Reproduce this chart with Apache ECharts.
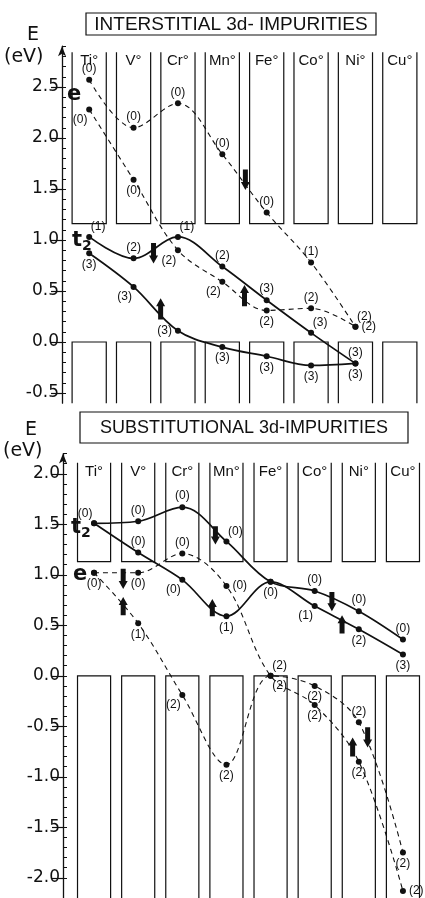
<!DOCTYPE html>
<html>
<head>
<meta charset="utf-8">
<title>3d impurities</title>
<script src="https://cdn.jsdelivr.net/npm/echarts@6.0.0/dist/echarts.min.js"></script>
<style>
    html, body { margin: 0; padding: 0; background: #fff; }
    #levels { width: 425px; height: 898px; }
</style>
</head>
<body>
<div id="levels"></div>
<script>
    var cats = ['Ti°', 'V°', 'Cr°', 'Mn°', 'Fe°', 'Co°', 'Ni°', 'Cu°'];

    // interstitial panel (eV)
    var intTicks = [-0.5, 0.0, 0.5, 1.0, 1.5, 2.0, 2.5];
    var intBand = [2.84, 1.16];   // conduction columns: top, bottom edge
    var intE1 = [2.57, 2.10, 2.34, 1.84, 1.27, 0.78, 0.15];
    var intE1Occ = ['(0)', '(0)', '(0)', '(0)', '(0)', '(1)', '(2)'];
    var intE2 = [2.28, 1.59, 0.90, 0.59, 0.31, 0.33, 0.15];
    var intE2Occ = ['(0)', '(0)', '(2)', '(2)', '(2)', '(2)', '(2)'];
    var intT2a = [1.03, 0.82, 1.03, 0.74, 0.41, 0.09, -0.21];
    var intT2aOcc = ['(1)', '(2)', '(1)', '(2)', '(3)', '(3)', '(3)'];
    var intT2b = [0.87, 0.54, 0.11, -0.05, -0.14, -0.23, -0.21];
    var intT2bOcc = ['(3)', '(3)', '(3)', '(3)', '(3)', '(3)', '(3)'];
    var intArrows = [[3.52, 1.69, 1.49], [1.45, 0.97, 0.77], [1.61, 0.22, 0.43], [3.50, 0.35, 0.56]];

    // substitutional panel (eV)
    var subTicks = [-2.0, -1.5, -1.0, -0.5, 0.0, 0.5, 1.0, 1.5, 2.0];
    var subBand = [2.11, 1.13];
    var subT2a = [1.51, 1.53, 1.67, 1.33, 0.93, 0.84, 0.64, 0.36];
    var subT2aOcc = ['(0)', '(0)', '(0)', '(0)', '(0)', '(0)', '(0)', '(0)'];
    var subT2b = [1.51, 1.22, 0.95, 0.59, 0.93, 0.69, 0.46, 0.21];
    var subT2bOcc = ['', '(0)', '(0)', '(1)', '', '(1)', '(2)', '(3)'];
    var subEa = [1.02, 1.02, 1.21, 0.89, 0.0, -0.29, -0.85, -2.13];
    var subEaOcc = ['(0)', '(0)', '(0)', '(0)', '(2)', '(2)', '(2)', '(2)'];
    var subEb = [1.02, 0.52, -0.19, -0.88, 0.0, -0.10, -0.46, -1.75];
    var subEbOcc = ['', '(1)', '(2)', '(2)', '(2)', '(2)', '(2)', '(2)'];
    var subArrows = [[0.66, 1.06, 0.86], [0.66, 0.60, 0.78], [2.75, 1.48, 1.30], [2.68, 0.59, 0.76],
        [5.39, 0.83, 0.64], [5.62, 0.42, 0.60], [5.86, -0.80, -0.61], [6.20, -0.51, -0.71]];

    // where each occupancy label sits next to its point
    var intE1Pos = ['t', 't', 't', 't', 't', 't', 'tr'];
    var intE2Pos = ['bl', 'b', 'bl', 'bl', 'b', 't', 'r'];
    var intT2aPos = ['tr', 't', 'tr', 't', 't', 'tr', 't'];
    var intT2bPos = ['b', 'bl', 'l', 'b', 'b', 'b', 'b'];
    var subT2aPos = ['tl', 't', 't', 'tr', 'b', 't', 't', 't'];
    var subT2bPos = ['', 't', 'bl', 'b', '', 'bl', 'b', 'b'];
    var subEaPos = ['b', 'b', 't', 'r', 'tr', 'b', 'b', 'r'];
    var subEbPos = ['', 'b', 'bl', 'b', 'br', 'b', 't', 'b'];

    var INK = '#111';
    var FONT = 'DejaVu Sans';

    function labelAt(k) {
        switch (k) {
            case 't': return {position: 'top', offset: [0, 1]};
            case 'b': return {position: 'bottom', offset: [0, -1]};
            case 'l': return {position: 'left', offset: [0, 0]};
            case 'r': return {position: 'right', offset: [0, 0]};
            case 'tr': return {position: 'top', offset: [9, 2]};
            case 'tl': return {position: 'top', offset: [-9, 2]};
            case 'br': return {position: 'bottom', offset: [9, -2]};
            case 'bl': return {position: 'bottom', offset: [-9, -2]};
        }
        return {position: 'top'};
    }

    function levelSeries(g, vals, occ, pos, dashed) {
        return {
            type: 'line',
            xAxisIndex: g,
            yAxisIndex: g * 2,
            smooth: 0.35,
            symbol: 'circle',
            symbolSize: 6,
            z: 5,
            itemStyle: {color: INK},
            lineStyle: dashed ? {color: INK, width: 1.1, type: [5, 4]} : {color: INK, width: 1.7},
            data: vals.map(function (v, i) {
                var lp = labelAt(pos[i]);
                return {
                    value: [i, v],
                    label: {
                        show: occ[i] !== '',
                        formatter: occ[i],
                        position: lp.position,
                        offset: lp.offset,
                        distance: 3,
                        color: INK,
                        fontSize: 12,
                        fontFamily: 'Liberation Sans'
                    }
                };
            })
        };
    }

    // open columns: conduction part (open at top) and valence part (open at bottom)
    function columnSeries(g, band, yMin, widthFrac) {
        return {
            type: 'custom',
            xAxisIndex: g,
            yAxisIndex: g * 2,
            z: 2,
            silent: true,
            data: cats.map(function (c, i) { return [i, band[0], band[1]]; }),
            renderItem: function (params, api) {
                var i = api.value(0);
                var w = api.size([1, 0])[0] * widthFrac / 2;
                var top = api.coord([i, api.value(1)]);
                var bot = api.coord([i, api.value(2)]);
                var vb = api.coord([i, 0]);
                var end = api.coord([i, yMin]);
                var x = top[0];
                var ls = {stroke: INK, lineWidth: 1.2, fill: null};
                return {
                    type: 'group',
                    children: [
                        {type: 'polyline', shape: {points: [[x - w, top[1]], [x - w, bot[1]], [x + w, bot[1]], [x + w, top[1]]]}, style: ls},
                        {type: 'polyline', shape: {points: [[x - w, end[1]], [x - w, vb[1]], [x + w, vb[1]], [x + w, end[1]]]}, style: ls},
                        {type: 'text', x: x, y: top[1] + 9, style: {text: cats[i], fill: INK, font: '15px "Liberation Sans"', align: 'center', verticalAlign: 'middle'}}
                    ]
                };
            }
        };
    }

    function arrowSeries(g, arrows) {
        return {
            type: 'custom',
            xAxisIndex: g,
            yAxisIndex: g * 2,
            z: 6,
            silent: true,
            data: arrows,
            renderItem: function (params, api) {
                var a = api.coord([api.value(0), api.value(1)]);
                var b = api.coord([api.value(0), api.value(2)]);
                var x = a[0], d = b[1] > a[1] ? 1 : -1, h = b[1] - d * 8;
                return {
                    type: 'polygon',
                    shape: {points: [[x - 2.5, a[1]], [x + 2.5, a[1]], [x + 2.5, h], [x + 4.5, h], [x, b[1]], [x - 4.5, h], [x - 2.5, h]]},
                    style: {fill: INK}
                };
            }
        };
    }

    function minorTicks(lo, hi) {
        var out = [];
        for (var k = Math.round(lo * 10); k <= Math.round(hi * 10); k++) out.push(k / 10);
        return out;
    }

    function yAxes(g, min, max, ticks, offset) {
        return [{
            gridIndex: g, type: 'value', position: 'left', min: min, max: max, offset: offset,
            axisLine: {show: true, onZero: false, symbol: ['none', 'arrow'], symbolSize: [6, 10], lineStyle: {color: INK, width: 1.3}},
            axisTick: {show: true, length: 11, customValues: ticks, lineStyle: {color: INK, width: 1.2}},
            axisLabel: {customValues: ticks, margin: 3, color: INK, fontSize: 17, fontFamily: FONT,
                formatter: function (v) { return v.toFixed(1); }},
            splitLine: {show: false}
        }, {
            gridIndex: g, type: 'value', position: 'left', min: min, max: max, offset: offset,
            axisLine: {show: false, onZero: false},
            axisTick: {show: true, inside: true, length: 4, customValues: minorTicks(ticks[0], max), lineStyle: {color: INK, width: 1}},
            axisLabel: {show: false},
            splitLine: {show: false}
        }];
    }

    function boxTitle(x, y, w, h, text, size) {
        return {
            type: 'group', x: x, y: y,
            children: [
                {type: 'rect', shape: {x: 0, y: 0, width: w, height: h}, style: {fill: '#fff', stroke: INK, lineWidth: 1.2}},
                {type: 'text', x: w / 2, y: h / 2 + 1, style: {text: text, fill: INK, font: size + 'px "Liberation Sans"', align: 'center', verticalAlign: 'middle'}}
            ]
        };
    }

    function txt(x, y, text, font, rich) {
        return {type: 'text', x: x, y: y, style: {text: text, fill: INK, font: font, verticalAlign: 'middle', rich: rich}};
    }

    var t2rich = {
        t: {fontSize: 21, fontWeight: 'bold', fontFamily: FONT, color: INK},
        s: {fontSize: 14, fontWeight: 'bold', fontFamily: FONT, color: INK, padding: [10, 0, 0, 0]}
    };

    var option = {
        animation: false,
        backgroundColor: '#fff',
        grid: [
            {left: 67, right: 3, top: 46.2, height: 357},
            {left: 72, right: -3.8, top: 453.6, height: 448.8}
        ],
        xAxis: [
            {gridIndex: 0, type: 'value', min: -0.5, max: 7.5, show: false},
            {gridIndex: 1, type: 'value', min: -0.5, max: 7.5, show: false}
        ],
        yAxis: yAxes(0, -0.6, 2.9, intTicks, 5).concat(yAxes(1, -2.2, 2.2, subTicks, 9)),
        graphic: [
            boxTitle(86, 13, 290, 22, 'INTERSTITIAL 3d- IMPURITIES', 19),
            boxTitle(80, 412, 328, 31, 'SUBSTITUTIONAL 3d-IMPURITIES', 18),
            txt(27, 35, 'E', '19px "DejaVu Sans"'),
            txt(4, 57, '(eV)', '19px "DejaVu Sans"'),
            txt(25, 430, 'E', '19px "DejaVu Sans"'),
            txt(3, 451, '(eV)', '19px "DejaVu Sans"'),
            txt(67, 95, 'e', 'bold 21px "DejaVu Sans"'),
            txt(72, 241, '{t|t}{s|2}', 'bold 21px "DejaVu Sans"', t2rich),
            txt(71, 528, '{t|t}{s|2}', 'bold 21px "DejaVu Sans"', t2rich),
            txt(73, 575, 'e', 'bold 21px "DejaVu Sans"')
        ],
        series: [
            columnSeries(0, intBand, -0.6, 0.77),
            levelSeries(0, intE1, intE1Occ, intE1Pos, true),
            levelSeries(0, intE2, intE2Occ, intE2Pos, true),
            levelSeries(0, intT2a, intT2aOcc, intT2aPos, false),
            levelSeries(0, intT2b, intT2bOcc, intT2bPos, false),
            arrowSeries(0, intArrows),
            columnSeries(1, subBand, -2.2, 0.75),
            levelSeries(1, subT2a, subT2aOcc, subT2aPos, false),
            levelSeries(1, subT2b, subT2bOcc, subT2bPos, false),
            levelSeries(1, subEa, subEaOcc, subEaPos, true),
            levelSeries(1, subEb, subEbOcc, subEbPos, true),
            arrowSeries(1, subArrows)
        ]
    };

    var chart = echarts.init(document.getElementById('levels'), null, {renderer: 'canvas'});
    chart.setOption(option);
    window.addEventListener('resize', function () { chart.resize(); });
</script>
</body>
</html>
